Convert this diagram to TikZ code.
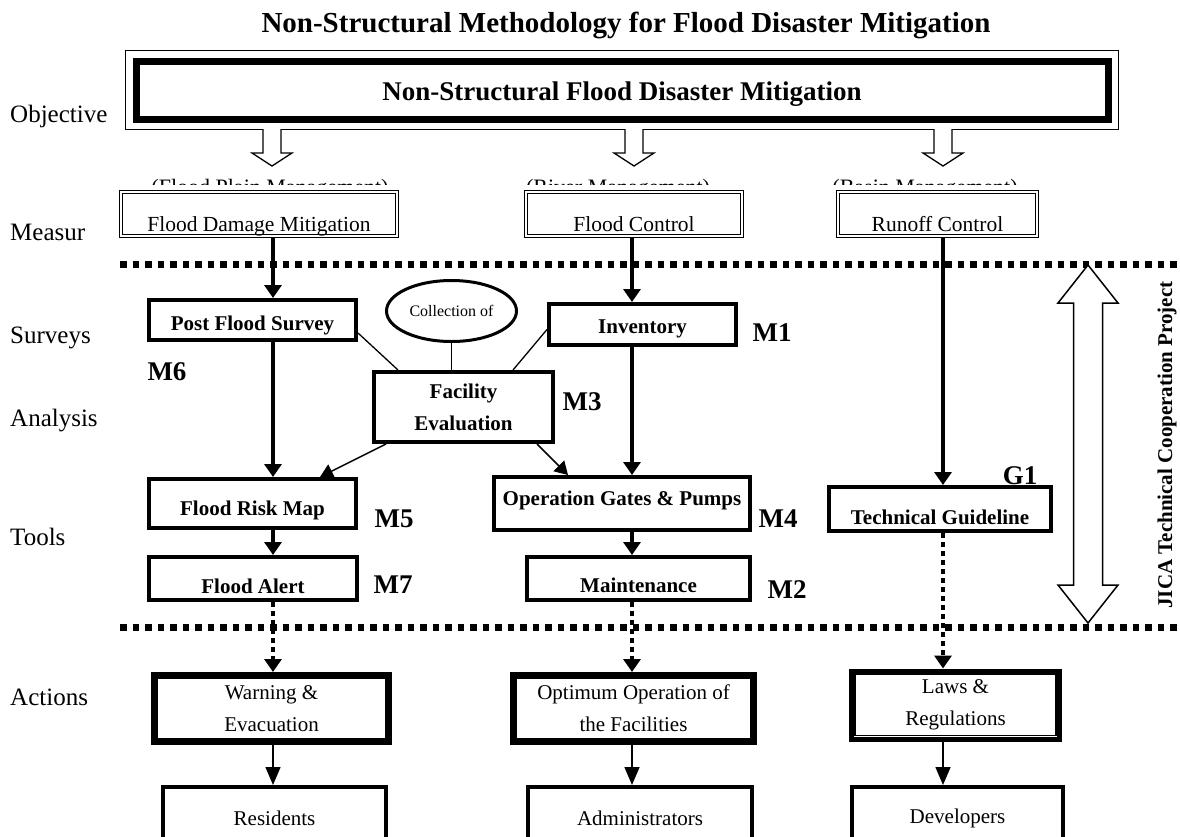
\documentclass[tikz,border=0pt]{standalone}
\usepackage{fontspec}
\setmainfont{Liberation Serif}
\usepackage{tikz}
\usetikzlibrary{shapes,arrows}
\usetikzlibrary{arrows.meta, positioning}
\usetikzlibrary{shapes.geometric}

\tikzset{
  sidelbl/.style={anchor=base west, inner sep=0pt, font=\fontsize{25}{28}\selectfont},
  measbox/.style={draw, double, double distance=2.5pt, line width=1.2pt, inner sep=0pt, minimum height=44pt, text height=39pt, text depth=5pt, font=\fontsize{21.5}{25}\selectfont},
  toolbox/.style={draw, line width=4pt, inner sep=0pt, align=center, font=\bfseries\fontsize{21}{32}\selectfont},
  actbox/.style={draw, line width=5pt, inner sep=0pt, align=center, minimum height=68pt, font=\fontsize{21}{32}\selectfont},
  endbox/.style={draw, line width=4pt, inner sep=0pt, minimum height=63pt, font=\fontsize{21}{25}\selectfont},
  mlbl/.style={inner sep=0pt, font=\bfseries\fontsize{27}{30}\selectfont},
  thickarr/.style={line width=4pt, -{Triangle[length=13pt,width=17pt]}},
  thinarr/.style={line width=1.5pt, -{Triangle[length=13pt,width=15pt]}},
  dotarr/.style={line width=4.5pt, dash pattern=on 4.5pt off 4.5pt, -{Triangle[length=13pt,width=17pt]}},
  downarr/.style={line width=1.5pt, -{Triangle[length=18pt,width=15pt]}},
  sepline/.style={line width=7pt, dash pattern=on 6.5pt off 6pt},
  hollow/.style={line width=1.3pt, fill=white}
}

\begin{document}
\begin{tikzpicture}[x=1pt, y=-1pt]
  \useasboundingbox (0,0) rectangle (1180,836);
  \clip (0,0) rectangle (1180,836);
  \fill[white] (0,0) rectangle (1180,836);

  \coordinate (c1) at (273,0);
  \coordinate (c2) at (632,0);
  \coordinate (c3) at (943,0);

  \node[anchor=base, inner sep=0pt, font=\bfseries\fontsize{29}{31}\selectfont] (title) at (626,32) {Non-Structural Methodology for Flood Disaster Mitigation};

  \node[sidelbl] (lobj) at (10,122) {Objective};
  \node[sidelbl] (lmea) at (10,240) {Measur};
  \node[sidelbl] (lsur) at (10,343) {Surveys};
  \node[sidelbl] (lana) at (10,426) {Analysis};
  \node[sidelbl] (ltoo) at (10,545) {Tools};
  \node[sidelbl] (lact) at (10,705) {Actions};

  \node[draw, line width=7pt, inner sep=0pt, minimum width=972pt, minimum height=58pt, text height=39pt, text depth=19pt, font=\bfseries\fontsize{27}{30}\selectfont] (obj) at (622,90) {Non-Structural Flood Disaster Mitigation};
  \draw[line width=1.3pt] ([shift={(-7pt,7pt)}]obj.north west) rectangle ([shift={(7pt,-7pt)}]obj.south east);

  \foreach \ax in {272,634,943}
    \draw[hollow] (\ax-9,129) -- (\ax-9,153) -- (\ax-20,153) -- (\ax,166) -- (\ax+20,153) -- (\ax+9,153) -- (\ax+9,129);

  \begin{scope}
    \clip (100,160) rectangle (1050,184);
    \node[anchor=base, inner sep=0pt, font=\fontsize{22}{24}\selectfont] (fpm) at (270,194) {(Flood Plain Management)};
    \node[anchor=base, inner sep=0pt, font=\fontsize{22}{24}\selectfont] (rvm) at (618,194) {(River Management)};
    \node[anchor=base, inner sep=0pt, font=\fontsize{22}{24}\selectfont] (bsm) at (925,194) {(Basin Management)};
  \end{scope}

  \node[measbox, minimum width=276pt] (fdm) at (259,214) {Flood Damage Mitigation};
  \node[measbox, minimum width=216pt] (fc) at (634,214) {Flood Control};
  \node[measbox, minimum width=199pt] (rc) at (937.5,214) {Runoff Control};

  \draw[sepline] (120,264) -- (1180,264);
  \draw[sepline] (120,627) -- (1180,627);

  \node[toolbox, minimum width=207pt, minimum height=40pt, text height=30pt, text depth=10pt] (pfs) at (252.5,320) {Post Flood Survey};
  \node[toolbox, minimum width=187pt, minimum height=41pt, text height=29pt, text depth=12pt] (inv) at (642.5,324.5) {Inventory};
  \node[ellipse, draw, line width=3pt, minimum width=130pt, minimum height=61pt, inner sep=0pt, font=\fontsize{16}{18}\selectfont] (coll) at (451.5,311) {Collection of};
  \node[toolbox, minimum width=179pt, minimum height=70pt] (fac) at (463.5,407) {Facility\\Evaluation};
  \node[toolbox, minimum width=207pt, minimum height=49pt, text height=36pt, text depth=13pt] (frm) at (252.5,503.5) {Flood Risk Map};
  \node[toolbox, minimum width=208pt, minimum height=43pt, text height=36pt, text depth=7pt] (fal) at (253,578.5) {Flood Alert};
  \node[toolbox, minimum width=256pt, minimum height=53pt, text height=28pt, text depth=25pt] (ogp) at (622,503.5) {Operation Gates \& Pumps};
  \node[toolbox, minimum width=223pt, minimum height=43pt, text height=35pt, text depth=8pt] (mnt) at (638.5,578.5) {Maintenance};
  \node[toolbox, minimum width=222pt, minimum height=44pt, text height=37pt, text depth=7pt] (tg) at (940,509) {Technical Guideline};

  \node[mlbl] (m1) at (772,333) {M1};
  \node[mlbl] (m6) at (167,372) {M6};
  \node[mlbl] (m3) at (582,402) {M3};
  \node[mlbl] (m5) at (394,519) {M5};
  \node[mlbl] (m4) at (778,519) {M4};
  \node[mlbl] (m7) at (393,585) {M7};
  \node[mlbl] (m2) at (787,590) {M2};
  \node[mlbl] (g1) at (1020,476) {G1};

  \draw[line width=1.5pt, fill=white] (1088,265) -- (1118,303) -- (1102.5,303) -- (1102.5,585) -- (1118,585) -- (1088,623) -- (1058,585) -- (1073.5,585) -- (1073.5,303) -- (1058,303) -- cycle;
  \node[rotate=90, inner sep=0pt, font=\bfseries\fontsize{21}{24}\selectfont] (jica) at (1167,445) {JICA Technical Cooperation Project};

  \node[actbox, minimum width=236pt] (warn) at (271.5,708.5) {Warning \&\\Evacuation};
  \node[actbox, minimum width=242pt] (opt) at (633.5,708.5) {Optimum Operation of\\the Facilities};
  \node[actbox, minimum width=208pt] (laws) at (955.5,705) {Laws \&\\Regulations};
  \foreach \n in {warn,opt,laws}
    \draw[line width=1.2pt] ([shift={(6pt,-6pt)}]\n.north west) rectangle ([shift={(-6pt,6pt)}]\n.south east);

  \node[endbox, minimum width=223pt] (res) at (274.5,818.5) {Residents};
  \node[endbox, minimum width=224pt] (adm) at (640,818.5) {Administrators};
  \node[endbox, minimum width=211pt] (dev) at (957.5,818.5) {Developers};

  \draw[thickarr] (fdm.south -| c1) -- (pfs.north -| c1);
  \draw[thickarr] (fc.south -| c2) -- (inv.north -| c2);
  \draw[thickarr] (rc.south -| c3) -- (tg.north -| c3);
  \draw[thickarr] (pfs.south -| c1) -- (frm.north -| c1);
  \draw[thickarr] (inv.south -| c2) -- (ogp.north -| c2);
  \draw[thickarr] (frm.south -| c1) -- (fal.north -| c1);
  \draw[thickarr] (ogp.south -| c2) -- (mnt.north -| c2);

  \draw[line width=1.3pt] ([yshift=-13pt]pfs.east) -- ([xshift=26pt]fac.north west);
  \draw[line width=1.3pt] (coll.south) -- (coll.south |- fac.north);
  \draw[line width=1.3pt] ([yshift=-5pt]inv.west) -- ([xshift=-42pt]fac.north east);
  \draw[thinarr] ([xshift=14pt]fac.south west) -- ([xshift=-38pt]frm.north east);
  \draw[thinarr] ([xshift=-18pt]fac.south east) -- ([xshift=76pt]ogp.north west);

  \draw[dotarr] (fal.south -| c1) -- (warn.north -| c1);
  \draw[dotarr] (mnt.south -| c2) -- (opt.north -| c2);
  \draw[dotarr] (tg.south -| c3) -- (laws.north -| c3);

  \draw[downarr] (warn.south -| c1) -- (res.north -| c1);
  \draw[downarr] (opt.south -| c2) -- (adm.north -| c2);
  \draw[downarr] (laws.south -| c3) -- (dev.north -| c3);
\end{tikzpicture}
\end{document}
